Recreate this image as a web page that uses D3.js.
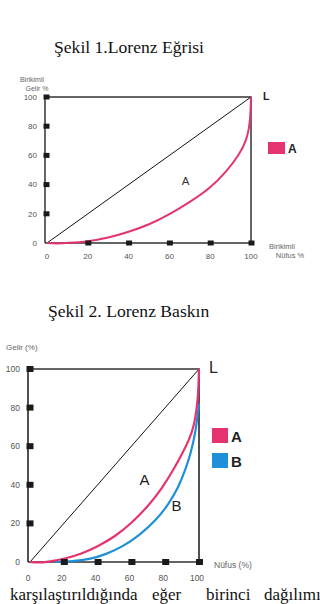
<!DOCTYPE html>
<html>
<head>
<meta charset="utf-8">
<script src="https://cdn.jsdelivr.net/npm/d3@7"></script>
<style>
  html, body { margin: 0; padding: 0; background: #fff; }
  svg { display: block; }
  .lbl { font-family: "Liberation Sans", Arial, sans-serif; fill: #555; }
  .ttl { font-family: "Liberation Serif", "Times New Roman", serif; fill: #111; }
</style>
</head>
<body>
<svg id="page" width="320" height="604"></svg>
<script>
// tick values on both axes
const ticks = [0, 20, 40, 60, 80, 100];
const equality = [0, 100];

// Şekil 1 - curve A (cumulative population %, cumulative income %)
const fig1Pop = [0, 5, 10, 20, 30, 40, 50, 60, 70, 80, 88, 94, 98, 99.7, 100];
const fig1A   = [0, -0.4, 0, 1, 3.5, 7.5, 12.5, 19.5, 28, 37.5, 49, 60, 70.5, 84, 100];

// Şekil 2 - curves A and B
const fig2PopA = [0, 5, 10, 20, 30, 40, 50, 60, 70, 78, 85, 90, 94, 97, 99.5, 100];
const fig2A    = [0, -0.4, 0, 1.5, 4, 8, 13, 20, 29, 38, 48, 56, 63, 70, 84, 100];
const fig2PopB = [15, 25, 35, 45, 55, 65, 75, 82, 88, 92, 95, 98, 100];
const fig2B    = [0, 0.3, 1.3, 4, 8, 14, 22, 30, 39, 48, 56, 67, 82];

// paragraph words under the figure
const paraWords = ['karşılaştırıldığında', 'eğer', 'birinci', 'dağılımı'];

const pink = '#e5336f', blue = '#1e8fd9';

const svg = d3.select('#page');

class LorenzChart {
    constructor(o) {
        this.o = o;
        this.x = d3.scaleLinear().domain([0, 100]).range(o.xr);
        this.y = d3.scaleLinear().domain([0, 100]).range(o.yr);
        this.g = svg.append('g');
    }
    frame() {
        let o = this.o, x = this.x, y = this.y, g = this.g;
        let left = o.axisX, top = y(100), bottom = y(0), right = x(100);
        g.append('path')
            .attr('d', `M${left},${bottom}H${right + 1}M${left},${bottom}V${top}H${right}V${bottom}`)
            .attr('fill', 'none').attr('stroke', '#333').attr('stroke-width', o.frameW);
        // equality line
        g.append('path')
            .datum(equality)
            .attr('d', d3.line().x(d => x(d)).y(d => y(d)))
            .attr('stroke', '#111').attr('stroke-width', 1);
    }
    curve(pop, val, color) {
        let x = this.x, y = this.y;
        this.g.append('path')
            .datum(d3.zip(pop, val))
            .attr('d', d3.line().x(d => x(d[0])).y(d => y(d[1])).curve(d3.curveBasis))
            .attr('fill', 'none').attr('stroke', color).attr('stroke-width', this.o.curveW);
    }
    tickMarks() {
        let o = this.o, x = this.x, y = this.y, g = this.g;
        let sq = o.sq;
        // squares on y axis
        g.selectAll('.ysq').data(ticks.filter(d => d > 0)).enter().append('rect')
            .attr('x', o.axisX - 1.5).attr('y', d => y(d) - sq / 2)
            .attr('width', sq + 1).attr('height', sq).attr('fill', '#1a1a1a');
        // squares on x axis
        g.selectAll('.xsq').data(ticks.filter(d => d > 0)).enter().append('rect')
            .attr('x', d => x(d) - sq / 2).attr('y', y(0) - sq / 2)
            .attr('width', sq + 1).attr('height', sq).attr('fill', '#1a1a1a');
        g.selectAll('.ylab').data(ticks).enter().append('text')
            .attr('class', 'lbl')
            .attr('x', o.yLabX).attr('y', d => y(d) + o.fs * 0.35)
            .attr('text-anchor', 'end').attr('font-size', o.fs)
            .text(d => d);
        g.selectAll('.xlab').data(ticks).enter().append('text')
            .attr('class', 'lbl')
            .attr('x', d => x(d) + o.xLabDx).attr('y', o.xLabY)
            .attr('text-anchor', 'middle').attr('font-size', o.fs)
            .text(d => d);
    }
    legend(names, colors) {
        let o = this.o, g = this.g;
        names.forEach((n, i) => {
            g.append('rect')
                .attr('x', o.leg[0]).attr('y', o.leg[1] + i * o.legStep)
                .attr('width', o.legSq[0]).attr('height', o.legSq[1]).attr('fill', colors[i]);
            g.append('text')
                .attr('x', o.leg[0] + o.legSq[0] + 3).attr('y', o.leg[1] + i * o.legStep + o.legSq[1] - 1.5)
                .attr('font-family', '"Liberation Sans", Arial, sans-serif')
                .attr('font-weight', 'bold').attr('font-size', o.legFs).attr('fill', '#222')
                .text(n);
        });
    }
    text(t, x, y, size, opts) {
        let el = this.g.append('text').attr('x', x).attr('y', y).attr('font-size', size)
            .attr('font-family', '"Liberation Sans", Arial, sans-serif').attr('fill', '#222').text(t);
        if (opts) Object.keys(opts).forEach(k => el.attr(k, opts[k]));
        return el;
    }
}

// titles
svg.append('text').attr('class', 'ttl').attr('x', 54).attr('y', 53).attr('font-size', 17.6)
    .text('Şekil 1.Lorenz Eğrisi');
svg.append('text').attr('class', 'ttl').attr('x', 48).attr('y', 317).attr('font-size', 17.6)
    .text('Şekil 2. Lorenz Baskın');

// Şekil 1
let c1 = new LorenzChart({ xr: [47, 251], yr: [243, 97], axisX: 45, frameW: 1.5, curveW: 2,
    sq: 5, fs: 8, yLabX: 37, xLabY: 259, xLabDx: 0,
    leg: [268, 142], legSq: [17, 12], legStep: 25, legFs: 12 });
c1.frame();
c1.curve(fig1Pop, fig1A, pink);
c1.tickMarks();
c1.legend(['A'], [pink]);
c1.text('L', 263, 100, 10.5, { 'font-weight': 'bold' });
c1.text('A', 185.5, 185, 11.5, { 'text-anchor': 'middle', fill: '#333' });
c1.text('Birikimli', 32, 82, 7, { 'text-anchor': 'middle', fill: '#666' });
c1.text('Gelir %', 37, 90.5, 7, { 'text-anchor': 'middle', fill: '#666' });
c1.text('Birikimli', 282, 248.5, 7.5, { 'text-anchor': 'middle', fill: '#666' });
c1.text('Nüfus %', 290, 257.5, 7.5, { 'text-anchor': 'middle', fill: '#666' });

// Şekil 2
let c2 = new LorenzChart({ xr: [30, 199], yr: [562, 369], axisX: 28, frameW: 1.7, curveW: 2.2,
    sq: 6, fs: 8.5, yLabX: 20, xLabY: 581, xLabDx: -2,
    leg: [212, 428], legSq: [16, 15], legStep: 25, legFs: 15 });
c2.frame();
c2.curve(fig2PopB, fig2B, blue);
c2.curve(fig2PopA, fig2A, pink);
c2.tickMarks();
c2.legend(['A', 'B'], [pink, blue]);
c2.text('L', 209, 373, 16, {});
c2.text('A', 144.5, 485, 15, { 'text-anchor': 'middle' });
c2.text('B', 176.5, 511, 15, { 'text-anchor': 'middle' });
c2.text('Gelir (%)', 6, 349.5, 8, { fill: '#666' });
c2.text('Nüfus (%)', 214, 568, 8.5, { fill: '#666' });

// start of the justified paragraph under the figure
const wordX = [10, 152, 206, 264];
svg.selectAll('.para').data(paraWords).enter().append('text')
    .attr('class', 'ttl').attr('font-size', 17)
    .attr('x', (d, i) => wordX[i]).attr('y', 600)
    .text(d => d);
</script>
</body>
</html>
